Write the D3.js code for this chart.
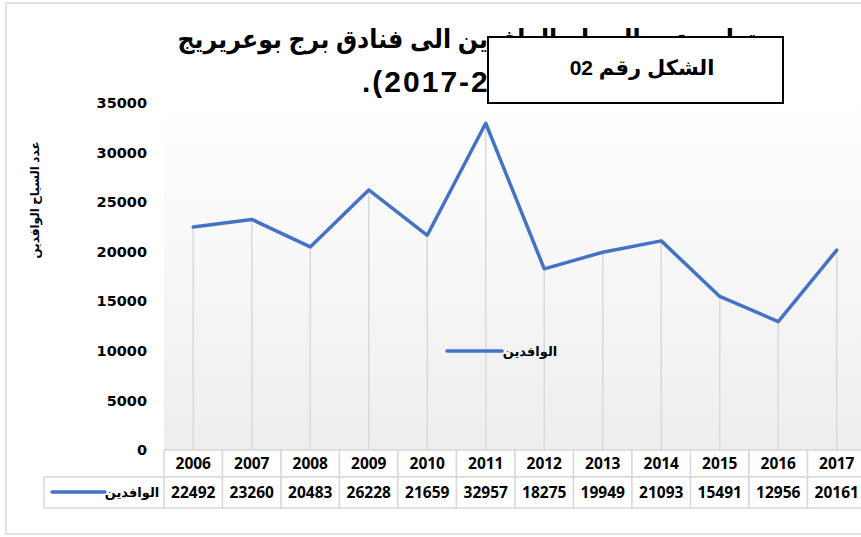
<!DOCTYPE html>
<html><head><meta charset="utf-8">
<script src="https://cdn.jsdelivr.net/npm/d3@7"></script>
<style>html,body{margin:0;padding:0;background:#fff;}svg{display:block;}</style>
</head><body>
<script>
const years = ["2006","2007","2008","2009","2010","2011","2012","2013","2014","2015","2016","2017"];
const visitors = [22492,23260,20483,26228,21659,32957,18275,19949,21093,15491,12956,20161];
const yTicks = [0,5000,10000,15000,20000,25000,30000,35000];
const seriesName = "الوافدين";
const titleLine1 = "تطور عدد السياح الوافدين الى فنادق برج بوعريريج";
const titleLine2 = ".(2017-2006)";
const boxLabel = "الشكل رقم 02";
const yLabel = "عدد السياح الوافدين";

const W = 861, H = 537;
const svg = d3.select("body").append("svg").attr("width", W).attr("height", H);
const defs = svg.append("defs");
const grad = defs.append("linearGradient").attr("id","pg").attr("x1",0).attr("y1",0).attr("x2",0).attr("y2",1);
grad.append("stop").attr("offset","0%").attr("stop-color","#ffffff");
grad.append("stop").attr("offset","100%").attr("stop-color","#eeeeee");

// outer border
svg.append("rect").attr("x",6).attr("y",3).attr("width",858).attr("height",531)
  .attr("fill","#fff").attr("stroke","#d9d9d9").attr("stroke-width",1.5);

const x = d3.scaleBand().domain(years).range([164, 866]);
const y = d3.scaleLinear().domain([0,35000]).range([450,103]);

// plot area
svg.append("rect").attr("x",164).attr("y",100).attr("width",702).attr("height",350).attr("fill","url(#pg)");

// drop lines
svg.append("g").selectAll("line").data(years).join("line")
  .attr("x1", d => x(d) + x.bandwidth()/2).attr("x2", d => x(d) + x.bandwidth()/2)
  .attr("y1", (d,i) => y(visitors[i])).attr("y2", y(0))
  .attr("stroke","#d9d9d9").attr("stroke-width",1.5);

// y axis ticks (no line)
const yAxis = d3.axisLeft(y).tickValues(yTicks).tickSize(0).tickPadding(0).tickFormat(d3.format("d"));
const ga = svg.append("g").attr("transform","translate(147,0)").call(yAxis);
ga.select(".domain").remove();
ga.selectAll("text").attr("font-family","DejaVu Sans, sans-serif").attr("font-weight","bold")
  .attr("font-size",14.5).attr("fill","#000");

// line
const line = d3.line().x((d,i) => x(years[i]) + x.bandwidth()/2).y(d => y(d));
svg.append("path").datum(visitors).attr("d", line).attr("fill","none")
  .attr("stroke","#4472C4").attr("stroke-width",3.5).attr("stroke-linejoin","round").attr("stroke-linecap","round");

// legend in plot
svg.append("line").attr("x1",447).attr("x2",502).attr("y1",351).attr("y2",351)
  .attr("stroke","#4472C4").attr("stroke-width",3.5).attr("stroke-linecap","round");
svg.append("text").attr("x",530).attr("y",356).attr("text-anchor","middle")
  .attr("font-family","Liberation Sans, DejaVu Sans, sans-serif").attr("font-weight","bold").attr("font-size",13)
  .text(seriesName);

// data table
const tbl = svg.append("g");
const cellStroke = "#d9d9d9";
tbl.selectAll("rect.h").data(years).join("rect").attr("class","h")
  .attr("x", d => x(d)).attr("y",450).attr("width", x.bandwidth()).attr("height",27)
  .attr("fill","#fff").attr("stroke",cellStroke).attr("stroke-width",1.5);
tbl.selectAll("rect.v").data(years).join("rect").attr("class","v")
  .attr("x", d => x(d)).attr("y",477).attr("width", x.bandwidth()).attr("height",31)
  .attr("fill","#fff").attr("stroke",cellStroke).attr("stroke-width",1.5);
tbl.append("rect").attr("x",44).attr("y",477).attr("width",120).attr("height",31)
  .attr("fill","#fff").attr("stroke",cellStroke).attr("stroke-width",1.5);
tbl.selectAll("text.h").data(years).join("text").attr("class","h")
  .attr("x", d => x(d) + x.bandwidth()/2).attr("y",469).attr("text-anchor","middle")
  .attr("font-family","Open Sans, sans-serif").attr("font-weight","bold").attr("font-size",15.5).text(d => d);
tbl.selectAll("text.v").data(visitors).join("text").attr("class","v")
  .attr("x", (d,i) => x(years[i]) + x.bandwidth()/2).attr("y",498).attr("text-anchor","middle")
  .attr("font-family","Open Sans, sans-serif").attr("font-weight","bold").attr("font-size",15.5).text(d => d);
tbl.append("line").attr("x1",52).attr("x2",105).attr("y1",492).attr("y2",492)
  .attr("stroke","#4472C4").attr("stroke-width",3.5).attr("stroke-linecap","round");
tbl.append("text").attr("x",132).attr("y",497).attr("text-anchor","middle")
  .attr("font-family","Liberation Sans, DejaVu Sans, sans-serif").attr("font-weight","bold").attr("font-size",13)
  .text(seriesName);

// y label
svg.append("text").attr("transform","translate(39,200) rotate(-90)").attr("text-anchor","middle")
  .attr("font-family","Liberation Sans, DejaVu Sans, sans-serif").attr("font-weight","bold").attr("font-size",12)
  .text(yLabel);

// title
svg.append("text").attr("x",467).attr("y",48).attr("text-anchor","middle")
  .attr("font-family","Liberation Sans, DejaVu Sans, sans-serif").attr("font-weight","bold").attr("font-size",26)
  .attr("textLength",579).attr("lengthAdjust","spacingAndGlyphs")
  .text(titleLine1);
svg.append("text").attr("x",362).attr("y",92).attr("text-anchor","start").attr("direction","ltr")
  .attr("font-family","Liberation Sans, DejaVu Sans, sans-serif").attr("font-weight","bold").attr("font-size",30)
  .attr("letter-spacing",2)
  .text(titleLine2);

// figure box
svg.append("rect").attr("x",488).attr("y",37).attr("width",295).attr("height",66)
  .attr("fill","#fff").attr("stroke","#000").attr("stroke-width",2);
svg.append("text").attr("x",642).attr("y",75).attr("text-anchor","middle")
  .attr("font-family","Liberation Sans, DejaVu Sans, sans-serif").attr("font-weight","bold").attr("font-size",21)
  .text(boxLabel);
</script>
</body></html>
